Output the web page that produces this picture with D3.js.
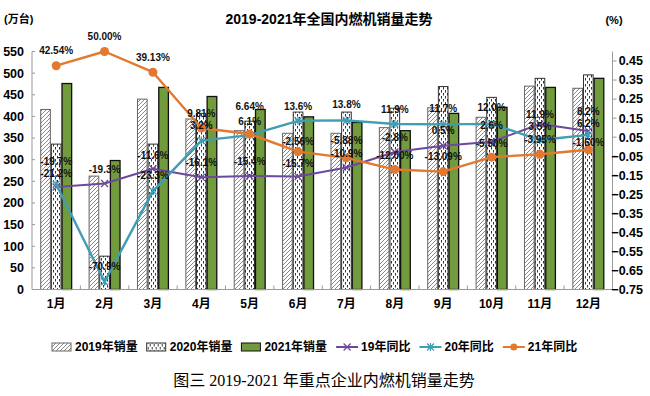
<!DOCTYPE html>
<html>
<head>
<meta charset="utf-8">
<script src="https://cdn.jsdelivr.net/npm/d3@7"></script>
<style>
  body { margin: 0; background: #fff; }
  text { font-family: "Liberation Sans", Arial, "Noto Sans CJK SC", sans-serif; }
</style>
</head>
<body>
<div id="chart"></div>
<script>
// Datos
const months = ["1月", "2月", "3月", "4月", "5月", "6月", "7月", "8月", "9月", "10月", "11月", "12月"]
const sales2019 = [416, 262, 440, 394, 367, 361, 361, 374, 420, 398, 470, 465]
const sales2020 = [336, 77, 336, 407, 389, 410, 410, 419, 469, 444, 488, 496]
const sales2021 = [476, 298, 467, 446, 416, 399, 386, 367, 407, 421, 467, 488]
const yoy19 = [-0.212, -0.193, -0.116, -0.161, -0.154, -0.157, -0.109, -0.028, 0.005, 0.026, 0.119, 0.082]
const yoy20 = [-0.197, -0.709, -0.233, 0.032, 0.061, 0.136, 0.138, 0.119, 0.117, 0.120, 0.035, 0.062]
const yoy21 = [0.4254, 0.50, 0.3913, 0.0981, 0.0664, -0.0256, -0.0588, -0.12, -0.1309, -0.055, -0.0395, -0.016]
const lab19 = ["-21.2%", "-19.3%", "-11.6%", "-16.1%", "-15.4%", "-15.7%", "-10.9%", "-2.8%", "0.5%", "2.6%", "11.9%", "8.2%"]
const lab20 = ["-19.7%", "-70.9%", "-23.3%", "3.2%", "6.1%", "13.6%", "13.8%", "11.9%", "11.7%", "12.0%", "3.5%", "6.2%"]
const lab21 = ["42.54%", "50.00%", "39.13%", "9.81%", "6.64%", "-2.56%", "-5.88%", "-12.00%", "-13.09%", "-5.50%", "-3.95%", "-1.60%"]
const leftTicks = d3.range(0, 551, 50)
const rightTicks = d3.range(13).map(i => -0.75 + i * 0.1)
const barKeys = ["2019年销量", "2020年销量", "2021年销量"]
const lineKeys = ["19年同比", "20年同比", "21年同比"]

// desplazamiento vertical de las etiquetas (solo layout)
const dy19 = [-14, -14, -13, -15, -15, -13, -14, -15, -15, -16, -10, -20]
const dy20 = [-23, -15, -16, -15, -14, -14, -16, -15, -16, -16, -14, -11]
const dy21 = [-15, -15, -15, -15, -28, -10, -17, -14, -15, -14, -15, -7]

const draw = () => {
  const ancho = 650, alto = 396
  const svg = d3.select("#chart").append("svg")
                .attr("width", ancho).attr("height", alto)

  const top = 51.5, bottom = 289.5, left = 32, right = 612.5

  // Patrones
  const defs = svg.append("defs")
  const hatch = defs.append("pattern").attr("id", "hatch")
                    .attr("patternUnits", "userSpaceOnUse")
                    .attr("width", 4).attr("height", 4)
  hatch.append("rect").attr("width", 4).attr("height", 4).attr("fill", "#fff")
  hatch.append("path").attr("d", "M0,4 L4,0 M-1,1 L1,-1 M3,5 L5,3")
       .attr("stroke", "#7a7a7a").attr("stroke-width", 0.9)
  const dots = defs.append("pattern").attr("id", "dots")
                   .attr("patternUnits", "userSpaceOnUse")
                   .attr("width", 4).attr("height", 6)
  dots.append("rect").attr("width", 4).attr("height", 6).attr("fill", "#fff")
  dots.append("rect").attr("x", 1).attr("y", 0).attr("width", 1).attr("height", 2.5).attr("fill", "#333")
  dots.append("rect").attr("x", 3).attr("y", 3).attr("width", 1).attr("height", 2.5).attr("fill", "#333")

  const barFill = ["url(#hatch)", "url(#dots)", "#729b3d"]
  const barStroke = ["#666", "#333", "#111"]
  const lineColor = ["#6b4a9b", "#3f9db4", "#e2792f"]

  // Escalas
  const x0 = d3.scaleBand().domain(months).range([left, right])
               .paddingInner(0.34).paddingOuter(0.17)
  const x1 = d3.scaleBand().domain(barKeys).range([0, x0.bandwidth()])
  const yL = d3.scaleLinear().domain([0, 550]).range([bottom, top])
  const yR = d3.scaleLinear().domain([-0.75, 0.5]).range([bottom, top])
  const cx = (m) => x0(m) + x0.bandwidth() / 2

  // Barras
  const series = [sales2019, sales2020, sales2021]
  series.forEach((vals, k) => {
    svg.append("g").selectAll("rect")
       .data(vals)
       .join("rect")
       .attr("x", (d, i) => x0(months[i]) + x1(barKeys[k]) + 0.5)
       .attr("y", (d) => yL(d))
       .attr("width", x1.bandwidth() - 1)
       .attr("height", (d) => bottom - yL(d))
       .attr("fill", barFill[k])
       .attr("stroke", barStroke[k])
       .attr("stroke-width", k == 2 ? 1.3 : 1)
  })

  // Ejes
  const axisColor = "#9a9a9a"
  svg.append("line").attr("x1", left).attr("x2", left).attr("y1", top).attr("y2", bottom)
     .attr("stroke", axisColor)
  svg.append("line").attr("x1", right).attr("x2", right).attr("y1", top).attr("y2", bottom)
     .attr("stroke", axisColor)
  svg.append("line").attr("x1", left).attr("x2", right).attr("y1", bottom).attr("y2", bottom)
     .attr("stroke", axisColor).attr("stroke-width", 1.2)

  svg.append("g").selectAll("line").data(leftTicks).join("line")
     .attr("x1", left).attr("x2", left + 3)
     .attr("y1", d => yL(d)).attr("y2", d => yL(d)).attr("stroke", axisColor)
  svg.append("g").selectAll("text").data(leftTicks).join("text")
     .attr("x", 24).attr("y", d => yL(d)).attr("dy", "0.35em")
     .attr("text-anchor", "end").attr("font-size", 12.5).attr("font-weight", "bold")
     .text(d => d)

  svg.append("g").selectAll("line").data(rightTicks).join("line")
     .attr("x1", right).attr("x2", right + 4)
     .attr("y1", d => yR(d)).attr("y2", d => yR(d)).attr("stroke", axisColor)
  svg.append("g").selectAll("text").data(rightTicks).join("text")
     .attr("x", 643).attr("y", d => yR(d)).attr("dy", "0.35em")
     .attr("text-anchor", "end").attr("font-size", 12.5).attr("font-weight", "bold")
     .text(d => d3.format(".2f")(d))

  svg.append("g").selectAll("line").data(months.slice(1)).join("line")
     .attr("x1", d => x0(d) - x0.step() * x0.paddingInner() / 2)
     .attr("x2", d => x0(d) - x0.step() * x0.paddingInner() / 2)
     .attr("y1", bottom - 4).attr("y2", bottom).attr("stroke", axisColor)
  svg.append("g").selectAll("text").data(months).join("text")
     .attr("x", d => cx(d)).attr("y", 304).attr("dy", "0.35em")
     .attr("text-anchor", "middle").attr("font-size", 12).attr("font-weight", "bold")
     .text(d => d)

  // Lineas
  const yoys = [yoy19, yoy20, yoy21]
  const linea = d3.line().x((d, i) => cx(months[i])).y(d => yR(d))
  yoys.forEach((vals, k) => {
    const g = svg.append("g")
    g.append("path").datum(vals).attr("d", linea)
     .attr("fill", "none").attr("stroke", lineColor[k])
     .attr("stroke-width", k == 0 ? 2 : 2.4).attr("stroke-linejoin", "round")
    const pts = g.selectAll("g").data(vals).join("g")
                 .attr("transform", (d, i) => `translate(${cx(months[i])},${yR(d)})`)
    if (k == 2) {
      pts.append("circle").attr("r", 4.5).attr("fill", lineColor[k])
    } else {
      const p = k == 0 ? "M-3.5,-3.5L3.5,3.5M-3.5,3.5L3.5,-3.5" : "M-3.5,-3.5L3.5,3.5M-3.5,3.5L3.5,-3.5M0,-4L0,4"
      pts.append("path").attr("d", p).attr("stroke", lineColor[k]).attr("stroke-width", 1.3)
    }
  })

  // Etiquetas de datos
  const labs = [lab19, lab20, lab21]
  const dys = [dy19, dy20, dy21]
  yoys.forEach((vals, k) => {
    svg.append("g").selectAll("text").data(vals).join("text")
       .attr("x", (d, i) => cx(months[i]))
       .attr("y", (d, i) => yR(d) + dys[k][i])
       .attr("dy", "0.35em")
       .attr("text-anchor", "middle").attr("font-size", 10).attr("font-weight", "bold")
       .attr("fill", "#111")
       .text((d, i) => labs[k][i])
  })

  // Titulos
  svg.append("text").attr("x", 329).attr("y", 19).attr("dy", "0.35em")
     .attr("text-anchor", "middle").attr("font-size", 14).attr("font-weight", "bold")
     .text("2019-2021年全国内燃机销量走势")
  svg.append("text").attr("x", 4).attr("y", 19).attr("dy", "0.35em")
     .attr("font-size", 11).attr("font-weight", "bold").text("(万台)")
  svg.append("text").attr("x", 614).attr("y", 20).attr("dy", "0.35em")
     .attr("text-anchor", "middle").attr("font-size", 11).attr("font-weight", "bold").text("(%)")

  // Leyenda
  const legend = svg.append("g")
  let lx = 52
  const ly = 347
  const items = barKeys.map((k, i) => ({ name: k, type: "bar", i }))
                  .concat(lineKeys.map((k, i) => ({ name: k, type: "line", i })))
  items.forEach((it) => {
    const g = legend.append("g").attr("transform", `translate(${lx},${ly})`)
    let w
    if (it.type == "bar") {
      w = 20
      g.append("rect").attr("x", 0).attr("y", -4).attr("width", 19).attr("height", 8)
       .attr("fill", barFill[it.i]).attr("stroke", barStroke[it.i])
    } else {
      w = 22
      g.append("line").attr("x1", 0).attr("x2", 22).attr("stroke", lineColor[it.i]).attr("stroke-width", 2)
      if (it.i == 2) {
        g.append("circle").attr("cx", 11).attr("r", 3.5).attr("fill", lineColor[it.i])
      } else {
        const p = it.i == 0 ? "M7.5,-3.5L14.5,3.5M7.5,3.5L14.5,-3.5" : "M7.5,-3.5L14.5,3.5M7.5,3.5L14.5,-3.5M11,-4L11,4"
        g.append("path").attr("d", p).attr("stroke", lineColor[it.i]).attr("stroke-width", 1.2)
      }
    }
    const t = g.append("text").attr("x", w + 3).attr("dy", "0.35em")
               .attr("font-size", 12).attr("font-weight", "bold").text(it.name)
    lx += w + 3 + t.node().getComputedTextLength() + 9
  })

  // Pie
  svg.append("text").attr("x", 324).attr("y", 380).attr("dy", "0.35em")
     .attr("text-anchor", "middle").attr("font-size", 16)
     .style("font-family", "'Liberation Serif', 'Noto Sans CJK SC', serif")
     .text("图三 2019-2021 年重点企业内燃机销量走势")
}

draw()
</script>
</body>
</html>
